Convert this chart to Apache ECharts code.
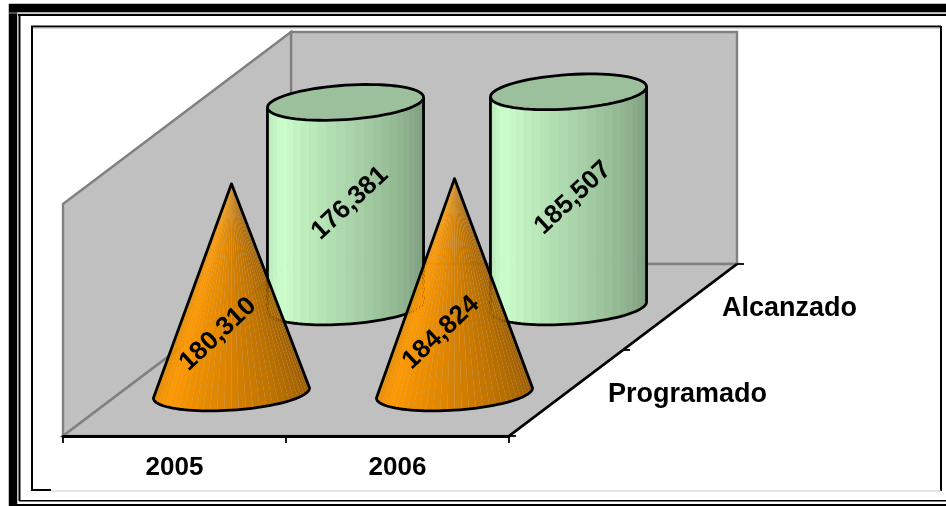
<!DOCTYPE html>
<html>
<head>
<meta charset="utf-8">
<style>html,body{margin:0;padding:0;background:#fff}#chart{width:946px;height:506px}</style>
<script src="https://cdn.jsdelivr.net/npm/echarts@6/dist/echarts.min.js"></script>
</head>
<body>
<div id="chart"></div>
<script>
// Yearly values, one row of solids per depth category
const years = ['2005', '2006'];
const depthCategories = ['Programado', 'Alcanzado'];
const programado = [180310, 184824];
const alcanzado = [176381, 185507];
const axisMax = 200000;

// Oblique projection: screen offset of the full floor depth
const depthVector = [228, -172];
const FONT = '"Liberation Sans", Arial, sans-serif';
const INK = '#000';
const OUTLINE = 2.8;

// Projects a (category, value, depth row) triple onto the screen
function project(api, cat, value, row) {
  const p = api.coord([cat, value]);
  const k = (row + 0.5) / depthCategories.length;
  return [p[0] + depthVector[0] * k, p[1] + depthVector[1] * k];
}

// Point on the sheared ellipse that outlines a round base
function rim(c, a, t) {
  return [c[0] + a * Math.cos(t), c[1] + a * 0.22 * Math.sin(t) - a * 0.065 * Math.cos(t)];
}

// Brightness across the solid: a highlight left of centre, falling off to the right
function shade(rgb, u) {
  const f = u < 0.2 ? 0.88 + 0.12 * (u / 0.2) : 1 - 0.42 * ((u - 0.2) / 0.8);
  return 'rgb(' + rgb.map(v => Math.round(v * f)).join(',') + ')';
}

function arc(c, a, from, to, n) {
  const pts = [];
  for (let i = 0; i <= n; i++) pts.push(rim(c, a, from + (to - from) * i / n));
  return pts;
}

function valueLabel(text, x, y) {
  return {
    type: 'text', z2: 30, rotation: 0.75, x: x, y: y,
    style: { text: text, font: 'bold 26px ' + FONT, fill: INK, align: 'center', verticalAlign: 'middle' }
  };
}

function formatValue(v) { return v.toLocaleString('en-US'); }

// Cylinders for the back row
function renderCylinder(params, api) {
  const cat = api.value(0), value = api.value(1);
  const a = api.size([1, 0])[0] * 0.35;
  const base = project(api, cat, 0, 1);
  const top = project(api, cat, value, 1);
  const rgb = [204, 255, 204];
  const children = [];
  const strips = 26;
  for (let i = 0; i < strips; i++) {
    const t1 = Math.PI * (1 - i / strips), t2 = Math.PI * (1 - (i + 1) / strips);
    const color = shade(rgb, (i + 0.5) / strips);
    children.push({
      type: 'polygon', z2: 1,
      shape: { points: [rim(base, a, t1), rim(base, a, t2), rim(top, a, t2), rim(top, a, t1)] },
      style: { fill: color, stroke: color, lineWidth: 0.5 }
    });
  }
  const outline = [rim(top, a, Math.PI)].concat(arc(base, a, Math.PI, 0, 48), [rim(top, a, 0)]);
  children.push({
    type: 'polyline', z2: 10, shape: { points: outline },
    style: { fill: null, stroke: INK, lineWidth: OUTLINE }
  });
  children.push({
    type: 'polygon', z2: 11, shape: { points: arc(top, a, 0, Math.PI * 2, 72) },
    style: { fill: '#9CC09C', stroke: INK, lineWidth: OUTLINE }
  });
  children.push(valueLabel(formatValue(value), (base[0] + top[0]) / 2 + 4.5, (base[1] + top[1]) / 2 - 1.5));
  return { type: 'group', children: children };
}

// Cones for the front row
function renderCone(params, api) {
  const cat = api.value(0), value = api.value(1);
  const a = api.size([1, 0])[0] * 0.35;
  const base = project(api, cat, 0, 0);
  const apex = project(api, cat, value, 0);
  const rgb = [255, 153, 0];
  const children = [];
  const strips = 34;
  for (let i = 0; i < strips; i++) {
    const t1 = Math.PI * (1 - i / strips), t2 = Math.PI * (1 - (i + 1) / strips);
    children.push({
      type: 'polygon', z2: 1,
      shape: { points: [apex, rim(base, a, t1), rim(base, a, t2)] },
      style: { fill: shade(rgb, (i + 0.5) / strips) }
    });
  }
  const outline = [apex].concat(arc(base, a, Math.PI, 0, 48));
  children.push({
    type: 'polygon', z2: 10, shape: { points: outline },
    style: { fill: null, stroke: INK, lineWidth: OUTLINE, lineJoin: 'round' }
  });
  children.push(valueLabel(formatValue(value), base[0] - 13.5, base[1] + (apex[1] - base[1]) * 0.3 + 4));
  return { type: 'group', children: children };
}

// Back wall, side wall, floor, depth ticks and depth labels
function renderRoom(params, api) {
  const g = params.coordSys;
  const dx = depthVector[0], dy = depthVector[1];
  const left = g.x, right = g.x + g.width, top = g.y, bottom = g.y + g.height;
  const wallFill = { fill: '#C0C0C0', stroke: '#808080', lineWidth: 2.4 };
  const children = [
    { type: 'polygon', shape: { points: [[left + dx, top + dy], [right + dx, top + dy], [right + dx, bottom + dy], [left + dx, bottom + dy]] }, style: wallFill },
    { type: 'polygon', shape: { points: [[left, top], [left + dx, top + dy], [left + dx, bottom + dy], [left, bottom]] }, style: wallFill },
    { type: 'polygon', shape: { points: [[left, bottom], [left + dx, bottom + dy], [right + dx, bottom + dy], [right, bottom]] }, style: wallFill },
    { type: 'line', z2: 5, shape: { x1: right, y1: bottom, x2: right + dx, y2: bottom + dy }, style: { stroke: INK, lineWidth: OUTLINE } }
  ];
  for (let i = 0; i <= depthCategories.length; i++) {
    const k = i / depthCategories.length;
    children.push({
      type: 'line', z2: 5,
      shape: { x1: right + dx * k, y1: bottom + dy * k, x2: right + dx * k + 7, y2: bottom + dy * k },
      style: { stroke: INK, lineWidth: 1.8 }
    });
  }
  depthCategories.forEach((name, row) => {
    const k = (row + 0.5) / depthCategories.length;
    children.push({
      type: 'text', z2: 5, x: right + dx * k + 42, y: bottom + dy * k + 2,
      style: { text: name, font: 'bold 27px ' + FONT, fill: INK, align: 'left', verticalAlign: 'middle' }
    });
  });
  return { type: 'group', children: children };
}

// Page frame lines: [x1, y1, x2, y2, colour, width]
const frameLines = [
  [13, 4, 13, 506, '#000', 8.5],
  [9, 8, 946, 8, '#000', 8.5],
  [9, 13, 946, 13, '#999', 1],
  [19.5, 15, 19.5, 501, '#000', 2],
  [18, 15, 946, 15, '#000', 2],
  [19, 500.7, 946, 500.7, '#000', 1.6],
  [9, 505, 946, 505, '#000', 2],
  [31, 26.5, 941, 26.5, '#000', 2],
  [31, 28, 941, 28, '#aaa', 1],
  [32, 26, 32, 491, '#000', 2],
  [941, 26, 941, 491, '#000', 2],
  [31, 490, 51, 490, '#000', 2],
  [51, 491, 941, 491, '#ccc', 1]
];

const chart = echarts.init(document.getElementById('chart'));
chart.setOption({
  animation: false,
  backgroundColor: '#fff',
  grid: { left: 63, width: 446, top: 204, height: 232 },
  xAxis: {
    type: 'category',
    data: years,
    z: 3,
    axisLine: { lineStyle: { color: INK, width: OUTLINE } },
    axisTick: { show: true, length: 7, lineStyle: { color: INK, width: 1.8 } },
    axisLabel: { color: INK, fontFamily: FONT, fontWeight: 'bold', fontSize: 26, margin: 19 }
  },
  yAxis: { type: 'value', min: 0, max: axisMax, show: false },
  graphic: frameLines.map(l => ({
    type: 'line', silent: true,
    shape: { x1: l[0], y1: l[1], x2: l[2], y2: l[3] },
    style: { stroke: l[4], lineWidth: l[5] }
  })),
  series: [
    { type: 'custom', name: 'room', z: 1, silent: true, clip: false, data: [[0, 0]], renderItem: renderRoom },
    { type: 'custom', name: depthCategories[1], z: 4, clip: false, data: alcanzado.map((v, i) => [i, v]), renderItem: renderCylinder },
    { type: 'custom', name: depthCategories[0], z: 5, clip: false, data: programado.map((v, i) => [i, v]), renderItem: renderCone }
  ]
});
</script>
</body>
</html>
